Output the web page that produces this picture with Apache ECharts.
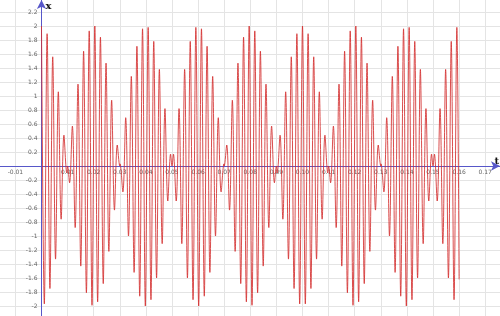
<!DOCTYPE html>
<html>
<head>
<meta charset="utf-8">
<script src="https://cdn.jsdelivr.net/npm/echarts@6/dist/echarts.min.js"></script>
<style>
html,body{margin:0;padding:0;background:#fff;}
#chart{width:500px;height:316px;}
</style>
</head>
<body>
<div id="chart"></div>
<script>
// time of each extremum / node of the beating signal, in milliseconds
const tMs = [
  0, 1.08, 2.15, 3.23, 4.30, 5.38, 6.45, 7.53, 8.60, 9.68, 10, 10.75, 11.83, 12.90, 13.98, 15.05, 16.13, 17.20, 18.28, 19.35,
  20.43, 21.51, 22.58, 23.66, 24.73, 25.81, 26.88, 27.96, 29.03, 30, 30.11, 31.18, 32.26, 33.33, 34.41, 35.48, 36.56, 37.63, 38.71, 39.78,
  40.86, 41.94, 43.01, 44.09, 45.16, 46.24, 47.31, 48.39, 49.46, 50, 50.54, 51.61, 52.69, 53.76, 54.84, 55.91, 56.99, 58.06, 59.14,
  60.22, 61.29, 62.37, 63.44, 64.52, 65.59, 66.67, 67.74, 68.82, 69.89, 70, 70.97, 72.04, 73.12, 74.19, 75.27, 76.34, 77.42, 78.49, 79.57,
  80.65, 81.72, 82.80, 83.87, 84.95, 86.02, 87.10, 88.17, 89.25, 90, 90.32, 91.40, 92.47, 93.55, 94.62, 95.70, 96.77, 97.85, 98.92,
  100.00, 101.08, 102.15, 103.23, 104.30, 105.38, 106.45, 107.53, 108.60, 109.68, 110, 110.75, 111.83, 112.90, 113.98, 115.05, 116.13, 117.20, 118.28, 119.35,
  120.43, 121.51, 122.58, 123.66, 124.73, 125.81, 126.88, 127.96, 129.03, 130, 130.11, 131.18, 132.26, 133.33, 134.41, 135.48, 136.56, 137.63, 138.71, 139.78,
  140.86, 141.94, 143.01, 144.09, 145.16, 146.24, 147.31, 148.39, 149.46, 150, 150.54, 151.61, 152.69, 153.76, 154.84, 155.91, 156.99, 158.06, 159.14,
  160.00
];
// signal value x at each of those times
const xVal = [
  2.00, -1.97, 1.89, -1.75, 1.56, -1.33, 1.06, -0.76, 0.44, -0.10, 0, -0.24, 0.57, -0.88, 1.17, -1.43, 1.64, -1.81, 1.93, -1.99,
  2.00, -1.94, 1.84, -1.68, 1.47, -1.22, 0.94, -0.63, 0.30, 0, 0.03, -0.37, 0.69, -1.00, 1.28, -1.52, 1.71, -1.86, 1.96, -2.00,
  1.98, -1.91, 1.78, -1.60, 1.38, -1.11, 0.82, -0.50, 0.17, 0, 0.17, -0.50, 0.82, -1.11, 1.38, -1.60, 1.78, -1.91, 1.98,
  -2.00, 1.96, -1.86, 1.71, -1.52, 1.28, -1.00, 0.69, -0.37, 0.03, 0, 0.30, -0.63, 0.94, -1.22, 1.47, -1.68, 1.84, -1.94, 2.00,
  -1.99, 1.93, -1.81, 1.64, -1.43, 1.17, -0.88, 0.57, -0.24, 0, -0.10, 0.44, -0.76, 1.06, -1.33, 1.56, -1.75, 1.89, -1.97,
  2.00, -1.97, 1.89, -1.75, 1.56, -1.33, 1.06, -0.76, 0.44, -0.10, 0, -0.24, 0.57, -0.88, 1.17, -1.43, 1.64, -1.81, 1.93, -1.99,
  2.00, -1.94, 1.84, -1.68, 1.47, -1.22, 0.94, -0.63, 0.30, 0, 0.03, -0.37, 0.69, -1.00, 1.28, -1.52, 1.71, -1.86, 1.96, -2.00,
  1.98, -1.91, 1.78, -1.60, 1.38, -1.11, 0.82, -0.50, 0.17, 0, 0.17, -0.50, 0.82, -1.11, 1.38, -1.60, 1.78, -1.91, 1.98,
  -1.62
];
// axis extents / ticks (t in ms, shown in seconds)
const tTickMin = -20, tTickMax = 180, tTickStep = 10;
const xTickMin = -2.2, xTickMax = 2.4, xTickStep = 0.2;
const tViewMin = -15.90, tViewMax = 175.67;
const xViewMin = -2.1429, xViewMax = 2.3714;

const axisColor = '#5757c9';
const gridColor = '#e4e4e4';
const labelStyle = { color: '#666', fontSize: 6, fontFamily: 'DejaVu Sans' };

// grid 0 box (ticks, labels, grid lines); grid 1 = exactly the canvas
const g0 = { left: -10.7, right: -11.3, top: -2, bottom: -4 };
const W = 500, H = 316;
// distance of the zero lines from the grid-0 edges (derived from the scales)
const g0W = W - g0.left - g0.right, g0H = H - g0.top - g0.bottom;
const zeroX = g0W * (0 - tTickMin) / (tTickMax - tTickMin);        // from grid-0 left edge
const zeroY = g0H * (0 - xTickMin) / (xTickMax - xTickMin);        // from grid-0 bottom edge

const chart = echarts.init(document.getElementById('chart'), null, { renderer: 'canvas' });
chart.setOption({
  animation: false,
  backgroundColor: '#fff',
  grid: [
    Object.assign({ outerBoundsMode: 'none', containLabel: false }, g0),
    { left: 0, right: 0, top: 0, bottom: 0, outerBoundsMode: 'none', containLabel: false }
  ],
  xAxis: [
    {
      type: 'value', gridIndex: 0, min: tTickMin, max: tTickMax, interval: tTickStep,
      position: 'bottom', offset: -zeroY,
      axisLine: { onZero: false, lineStyle: { color: axisColor, width: 1 } },
      axisTick: { show: false },
      splitLine: { show: true, lineStyle: { color: gridColor, width: 1 } },
      axisLabel: {
        ...labelStyle, margin: 3,
        formatter: v => (Math.abs(v) < 1e-9 ? '' : (v / 1000).toFixed(2))
      }
    },
    {
      type: 'value', gridIndex: 1, min: tViewMin, max: tViewMax,
      axisLine: { onZero: true, symbol: ['none', 'arrow'], symbolSize: [7, 9], lineStyle: { color: axisColor, width: 1 } },
      axisTick: { show: false }, axisLabel: { show: false }, splitLine: { show: false },
      name: 't', nameLocation: 'end', nameGap: -1,
      nameTextStyle: { color: '#111', fontSize: 10, fontWeight: 'bold', fontFamily: 'DejaVu Serif', align: 'right', verticalAlign: 'bottom', padding: [0, 0, 0, 0] }
    }
  ],
  yAxis: [
    {
      type: 'value', gridIndex: 0, min: xTickMin, max: xTickMax, interval: xTickStep,
      position: 'left', offset: -zeroX,
      axisLine: { onZero: false, lineStyle: { color: axisColor, width: 1 } },
      axisTick: { show: false },
      splitLine: { show: true, lineStyle: { color: gridColor, width: 1 } },
      axisLabel: {
        ...labelStyle, margin: 4,
        formatter: v => (Math.abs(v) < 1e-9 ? '' : String(Math.round(v * 10) / 10))
      }
    },
    {
      type: 'value', gridIndex: 1, min: xViewMin, max: xViewMax,
      axisLine: { onZero: true, symbol: ['none', 'arrow'], symbolSize: [7, 9], lineStyle: { color: axisColor, width: 1 } },
      axisTick: { show: false }, axisLabel: { show: false }, splitLine: { show: false },
      name: 'x', nameLocation: 'end', nameGap: -1,
      nameTextStyle: { color: '#111', fontSize: 10, fontWeight: 'bold', fontFamily: 'DejaVu Serif', align: 'left', verticalAlign: 'top', padding: [0, 0, 0, 4] }
    }
  ],
  series: [{
    type: 'line', xAxisIndex: 0, yAxisIndex: 0,
    data: tMs.map((t, i) => [t, xVal[i]]),
    showSymbol: false, smooth: 0.35,
    lineStyle: { color: '#d32f2f', width: 1, opacity: 0.85 },
    z: 3
  }]
});
</script>
</body>
</html>
